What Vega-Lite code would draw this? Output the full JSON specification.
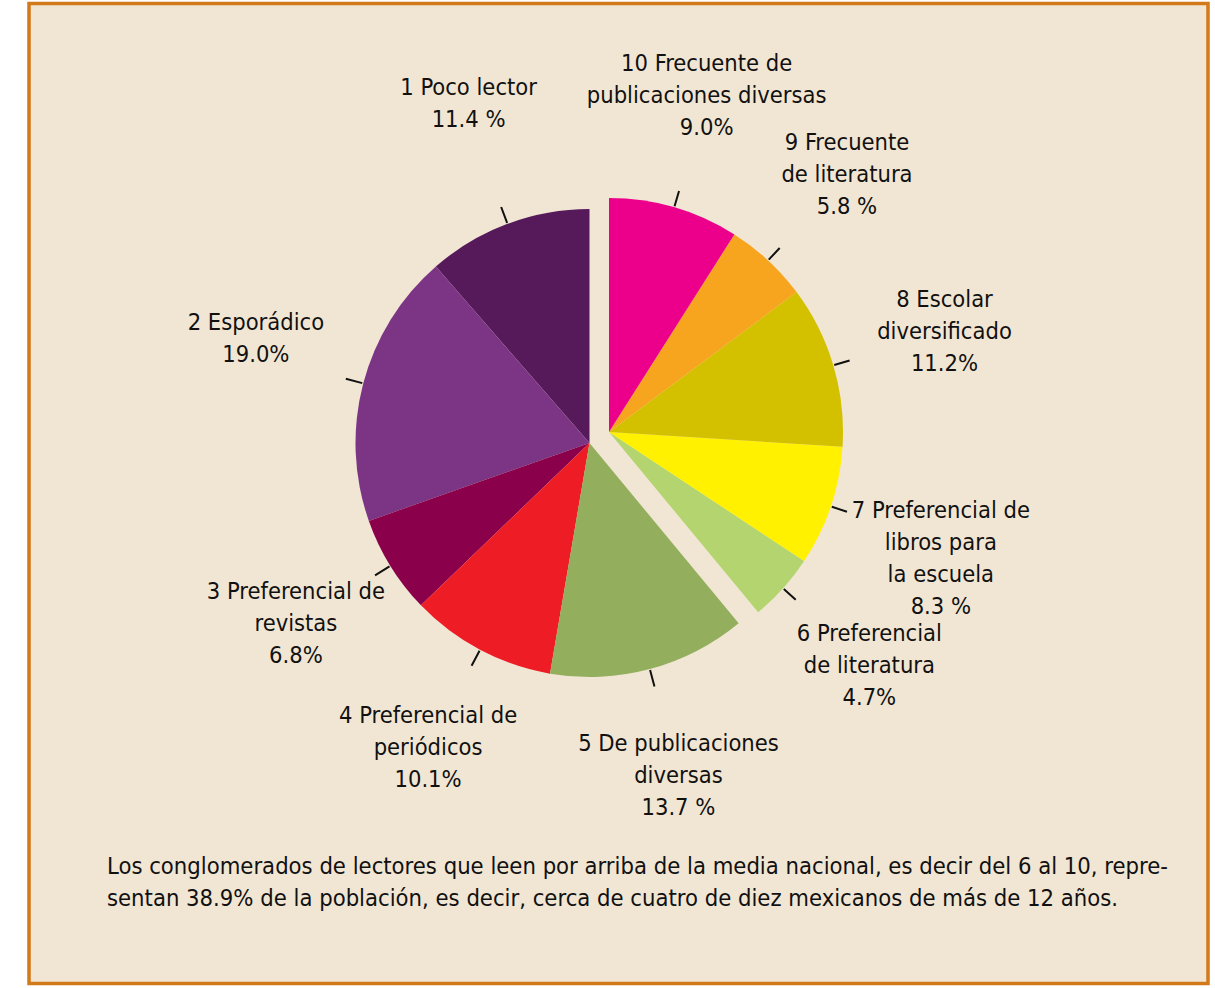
{
  "$schema": "https://vega.github.io/schema/vega-lite/v6.json",
  "autosize": "none",
  "width": 1179,
  "height": 980,
  "padding": {"left": 29, "top": 3.5, "right": 7, "bottom": 4.5},
  "background": "#ffffff",
  "config": {
    "view": {"stroke": null},
    "font": "Liberation Sans Narrow, DejaVu Sans Condensed, sans-serif"
  },
  "title": {
    "text": [
      "Los conglomerados de lectores que leen por arriba de la media nacional, es decir del 6 al 10, repre-",
      "sentan 38.9% de la población, es decir, cerca de cuatro de diez mexicanos de más de 12 años."
    ],
    "orient": "bottom",
    "anchor": "start",
    "frame": "group",
    "offset": -130,
    "dx": 78,
    "fontSize": 23.6,
    "fontWeight": "normal",
    "lineHeight": 32,
    "color": "#111111",
    "font": "Liberation Sans Narrow, DejaVu Sans Condensed, sans-serif"
  },
  "layer": [
    {
      "data": {"values": [{"frame": "panel"}]},
      "mark": {"type": "rect", "fill": "#F1E6D3", "stroke": "#D27A1A", "strokeWidth": 3.5},
      "encoding": {}
    },
    {
      "data": {
        "values": [
          {"id": 1, "value": 11.4, "label": "1 Poco lector\n11.4 %"},
          {"id": 2, "value": 19.0, "label": "2 Esporádico\n19.0%"},
          {"id": 3, "value": 6.8, "label": "3 Preferencial de\nrevistas\n6.8%"},
          {"id": 4, "value": 10.1, "label": "4 Preferencial de\nperiódicos\n10.1%"},
          {"id": 5, "value": 13.7, "label": "5 De publicaciones\ndiversas\n13.7 %"},
          {"id": 6, "value": 4.7, "label": "6 Preferencial\nde literatura\n4.7%"},
          {"id": 7, "value": 8.3, "label": "7 Preferencial de\nlibros para\nla escuela\n8.3 %"},
          {"id": 8, "value": 11.2, "label": "8 Escolar\ndiversificado\n11.2%"},
          {"id": 9, "value": 5.8, "label": "9 Frecuente\nde literatura\n5.8 %"},
          {"id": 10, "value": 9.0, "label": "10 Frecuente de\npublicaciones diversas\n9.0%"}
        ]
      },
      "transform": [
        {"stack": "value", "groupby": [], "sort": [{"field": "id", "order": "descending"}], "as": ["t0", "t1"]}
      ],
      "layer": [
        {
          "transform": [{"filter": {"field": "id", "gte": 6}}],
          "mark": {"type": "arc", "radius": 234, "xOffset": -9.5, "yOffset": -61.5},
          "encoding": {
            "theta": {"field": "t0", "type": "quantitative", "stack": null, "scale": {"domain": [0, 100], "range": [0, 6.283185307179586]}},
            "theta2": {"field": "t1"},
            "color": {"field": "id", "type": "nominal", "legend": null,
              "scale": {"domain": [1, 2, 3, 4, 5, 6, 7, 8, 9, 10],
                "range": ["#561A5A", "#7C3585", "#8A004A", "#EE1C25", "#93AE5C", "#B4D46F", "#FFF100", "#D3C100", "#F7A51F", "#EC008B"]}}
          }
        },
        {
          "transform": [{"filter": {"field": "id", "lte": 5}}],
          "mark": {"type": "arc", "radius": 234, "xOffset": -29, "yOffset": -50.5},
          "encoding": {
            "theta": {"field": "t0", "type": "quantitative", "stack": null, "scale": {"domain": [0, 100], "range": [0, 6.283185307179586]}},
            "theta2": {"field": "t1"},
            "color": {"field": "id", "type": "nominal", "legend": null}
          }
        },
        {
          "transform": [
            {"fold": ["t0", "t1"], "as": ["k", "pos"]},
            {"aggregate": [{"op": "mean", "field": "pos", "as": "mid"}], "groupby": ["id", "label"]},
            {"filter": {"field": "id", "gte": 6}}
          ],
          "layer": [
            {
              "mark": {"type": "arc", "radius": 251, "radius2": 235, "filled": false, "stroke": "#111111", "strokeWidth": 2, "xOffset": -9.5, "yOffset": -61.5},
              "encoding": {
                "theta": {"field": "mid", "type": "quantitative", "stack": null},
                "theta2": {"field": "mid"}
              }
            },
            {
              "mark": {"type": "text", "radius": 350, "lineBreak": "\n", "lineHeight": 32, "fontSize": 23.5, "align": "center", "baseline": "middle", "dy": -32, "color": "#111111", "xOffset": -9.5, "yOffset": -61.5},
              "encoding": {
                "theta": {"field": "mid", "type": "quantitative", "stack": null},
                "text": {"field": "label"}
              }
            }
          ]
        },
        {
          "transform": [
            {"fold": ["t0", "t1"], "as": ["k", "pos"]},
            {"aggregate": [{"op": "mean", "field": "pos", "as": "mid"}], "groupby": ["id", "label"]},
            {"filter": {"field": "id", "lte": 5}}
          ],
          "layer": [
            {
              "mark": {"type": "arc", "radius": 252, "radius2": 235, "filled": false, "stroke": "#111111", "strokeWidth": 2, "xOffset": -29, "yOffset": -50.5},
              "encoding": {
                "theta": {"field": "mid", "type": "quantitative", "stack": null},
                "theta2": {"field": "mid"}
              }
            },
            {
              "mark": {"type": "text", "radius": 345, "lineBreak": "\n", "lineHeight": 32, "fontSize": 23.5, "align": "center", "baseline": "middle", "dy": -32, "color": "#111111", "xOffset": -29, "yOffset": -50.5},
              "encoding": {
                "theta": {"field": "mid", "type": "quantitative", "stack": null},
                "text": {"field": "label"}
              }
            }
          ]
        }
      ]
    }
  ]
}
